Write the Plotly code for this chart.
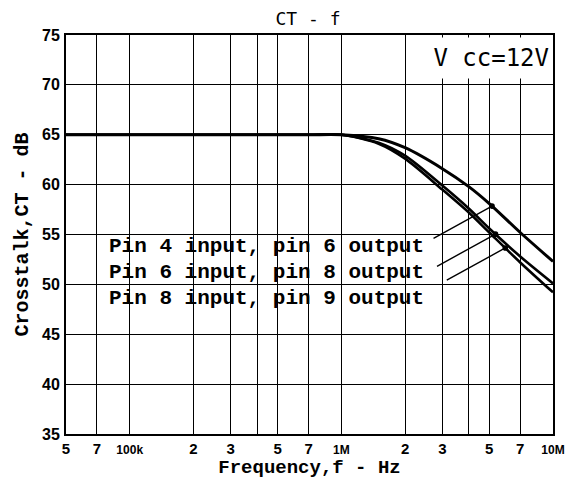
import numpy as np
import plotly.graph_objects as go

# ---- data ----
freq_hz = [5e4, 1e5, 3e5, 7e5, 1e6, 1.5e6, 2e6, 3e6, 4e6, 5e6, 7e6, 1e7]
ct_pin4_pin6 = [65, 65, 65, 65, 65, 64.6, 63.7, 61.6, 59.8, 58.1, 55.2, 52.3]
ct_pin6_pin8 = [65, 65, 65, 65, 65, 64.2, 62.9, 59.9, 57.6, 55.6, 52.8, 50.1]
ct_pin8_pin9 = [65, 65, 65, 65, 65, 64.1, 62.6, 59.5, 57.2, 55.2, 52.2, 49.2]
series_names = ["Pin 4 input, pin 6 output",
                "Pin 6 input, pin 8 output",
                "Pin 8 input, pin 9 output"]
leader_freq = [5.15e6, 5.35e6, 5.95e6]

x_tick_vals = [5e4, 7e4, 1e5, 2e5, 3e5, 4e5, 5e5, 7e5, 1e6, 2e6, 3e6, 4e6, 5e6, 7e6, 1e7]
x_tick_text = ["5", "7", "<span style='font-size:12px'>100k</span>", "2", "3", "", "5", "7",
               "<span style='font-size:12px'>1M</span>", "2", "3", "", "5", "7",
               "<span style='font-size:12px'>10M</span>"]
y_tick_vals = [35, 40, 45, 50, 55, 60, 65, 70, 75]

# page body adds an 8px margin; figure sized so the plot lands where the reference has it
BODY = 8
W, H = 566, 478
ML, MR, MT, MB = 58, 21, 27, 52

mono = "Liberation Mono"
fig = go.Figure()
series = [ct_pin4_pin6, ct_pin6_pin8, ct_pin8_pin9]
widths = [3, 2.6, 2.6]
for name, vals, w in zip(series_names, series, widths):
    fig.add_trace(go.Scatter(x=freq_hz, y=vals, mode="lines", name=name,
                             line=dict(color="black", width=w, shape="spline", smoothing=0.8),
                             showlegend=False))

# labels with leader lines (positions given in page pixels)
row_y_px = [246, 272, 298]
label_left_px = 107
pw = W - ML - MR
ph = H - MT - MB
for i, (name, vals, lf) in enumerate(zip(series_names, series, leader_freq)):
    yv = float(np.interp(np.log10(lf), np.log10(freq_hz), vals))
    fig.add_annotation(x=(label_left_px - BODY - ML) / pw,
                       y=1 - (row_y_px[i] - BODY - MT) / ph, xref="paper", yref="paper",
                       text=name, showarrow=False, xanchor="left", yanchor="middle",
                       font=dict(family=mono, size=21, color="black", weight="bold"))
    fig.add_annotation(x=np.log10(lf), y=yv, xref="x", yref="y", text="",
                       showarrow=True, arrowhead=6, arrowsize=1.0, arrowwidth=1.4,
                       arrowcolor="black", ax=-60, ay=33, standoff=0)

# Vcc box
fig.add_annotation(x=1, y=1, xref="paper", yref="paper", xanchor="right", yanchor="top",
                   xshift=-2, yshift=-2, width=136, height=38, bgcolor="white",
                   text="V cc=12V", showarrow=False, align="right", valign="middle",
                   font=dict(family="DejaVu Sans Mono", size=24, color="black"))

axis_common = dict(showline=True, linecolor="black", linewidth=2, mirror=True,
                   showgrid=True, gridcolor="black", gridwidth=1.4, zeroline=False, ticks="")

fig.update_xaxes(type="log", range=[np.log10(5e4), 7], tickmode="array",
                 tickvals=x_tick_vals, ticktext=x_tick_text,
                 tickfont=dict(family="Liberation Sans", size=15, color="black", weight="bold"),
                 title=dict(text="Frequency,f - Hz", standoff=2,
                            font=dict(family=mono, size=19, color="black", weight="bold")),
                 **axis_common)
fig.update_yaxes(range=[35, 75], tickmode="array", tickvals=y_tick_vals,
                 tickfont=dict(family="Liberation Sans", size=16, color="black", weight="bold"),
                 ticklabelstandoff=1,
                 title=dict(text="Crosstalk,CT - dB", standoff=8,
                            font=dict(family=mono, size=20, color="black", weight="bold")),
                 **axis_common)

fig.update_layout(width=W, height=H, margin=dict(l=ML, r=MR, t=MT, b=MB, autoexpand=False),
                  paper_bgcolor="white", plot_bgcolor="white",
                  title=dict(text="CT - f", x=(308 - BODY) / W, xanchor="center",
                             y=1 - (19 - BODY) / H, yanchor="middle", yref="container",
                             font=dict(family="DejaVu Sans Mono", size=18, color="black")))

fig.write_html("out.html")
